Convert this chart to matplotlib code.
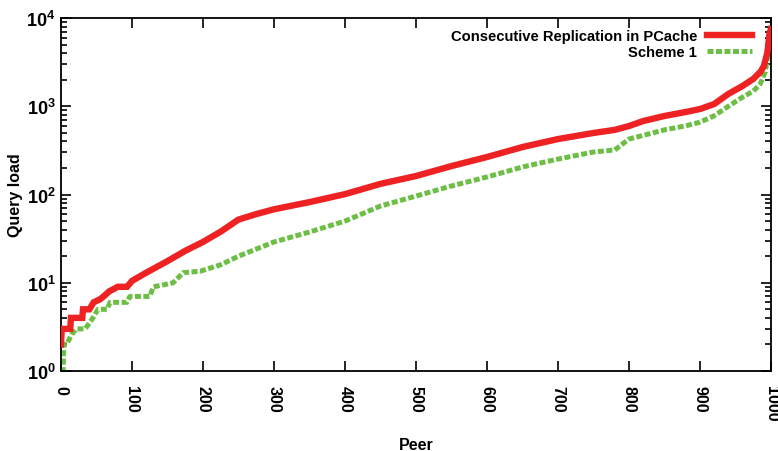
import math
import matplotlib
matplotlib.use('Agg')
import matplotlib.pyplot as plt
from matplotlib.ticker import LogLocator, FixedLocator, FuncFormatter, NullFormatter

plt.rcParams['font.family'] = ['Liberation Sans', 'DejaVu Sans']
plt.rcParams['mathtext.fontset'] = 'custom'
plt.rcParams['mathtext.rm'] = 'Liberation Sans'
plt.rcParams['mathtext.bf'] = 'Liberation Sans:bold'
plt.rcParams['mathtext.default'] = 'bf'

# %% data

red_label = 'Consecutive Replication in PCache'
red_x = [0, 1, 13, 14, 30, 31, 40, 46, 55, 60, 68, 80, 93, 100, 120, 150, 175,
         200, 225, 250, 275, 300, 350, 400, 450, 500, 550, 600, 650, 700,
         750, 780, 800, 820, 850, 880, 900, 920, 940, 960, 975, 985, 990,
         995, 998, 1000]
red_y = [2, 3, 3, 4, 4, 5, 5, 6, 6.5, 7, 8, 9, 9, 10.5, 13, 17.6, 23,
         29, 38, 52, 60, 68, 82, 101, 132, 162, 210, 266, 345, 425,
         498, 540, 597, 680, 776, 861, 930, 1060, 1380, 1700, 2040, 2450, 2860,
         4100, 6800, 7500]

green_label = 'Scheme 1'
green_x = [0, 3, 4, 8, 15, 22, 34, 40, 45, 52, 65, 69, 93, 97, 125, 130, 145,
           158, 172, 196, 225, 250, 300, 350, 400, 450, 500, 550, 600, 650,
           700, 750, 780, 800, 850, 880, 900, 920, 940, 960, 975, 985, 992,
           996, 1000]
green_y = [1, 1, 2, 2, 2.6, 3, 3, 3.5, 4, 5, 5, 6, 6, 7, 7, 9, 9.5,
           10, 13, 13.5, 16, 20, 29, 37.6, 50, 74, 96, 125, 158, 205,
           252, 303, 320, 425, 540, 600, 660, 780, 1000, 1270, 1480, 1800, 2450,
           4000, 6900]

x_ticks = [0, 100, 200, 300, 400, 500, 600, 700, 800, 900, 1000]

# %% plotting

fig = plt.figure(figsize=(7.78, 4.52), dpi=100)
ax = fig.add_axes([61 / 778, 1 - 372 / 452, 710 / 778, 353 / 452])

ax.plot(red_x, red_y, color='#ee2222', linewidth=4.6, label=red_label,
        solid_joinstyle='miter', zorder=3)
ax.plot(green_x, green_y, color='#6cbf44', linewidth=3.6, label=green_label,
        dashes=(1.2, 0.5), dash_capstyle='butt', zorder=2)

ax.set_yscale('log')
ax.set_xlim(0, 1000)
ax.set_ylim(1, 1e4)

ax.xaxis.set_major_locator(FixedLocator(x_ticks))
ax.yaxis.set_major_locator(LogLocator(base=10, numticks=10))
ax.yaxis.set_minor_locator(LogLocator(base=10, subs=range(2, 10), numticks=10))
ax.yaxis.set_minor_formatter(NullFormatter())
ax.yaxis.set_major_formatter(FuncFormatter(
    lambda v, p: r'$\mathbf{10^{%d}}$' % round(math.log10(v))))

ax.tick_params(which='both', direction='in', top=True, right=True, width=1.2)
ax.tick_params(which='major', length=7)
ax.tick_params(which='minor', length=4)
ax.tick_params(axis='x', labelrotation=-90, pad=10, labelsize=11.5)
ax.tick_params(axis='y', pad=4, labelsize=13)
for lbl in ax.get_xticklabels():
    lbl.set_fontweight('bold')
for sp in ax.spines.values():
    sp.set_linewidth(1.3)

ax.set_xlabel('Peer', fontsize=11.5, fontweight='bold', labelpad=12)
ax.set_ylabel('Query load', fontsize=11.5, fontweight='bold', labelpad=2)

leg = ax.legend(loc='upper right', frameon=False, markerfirst=False,
                handlelength=3.1, handletextpad=0.65,
                labelspacing=0.12, borderaxespad=0.0,
                bbox_to_anchor=(0.982, 0.985),
                prop={'weight': 'bold', 'size': 10.6})
leg._legend_box.align = 'right'

fig.savefig('out.png', dpi=100)
